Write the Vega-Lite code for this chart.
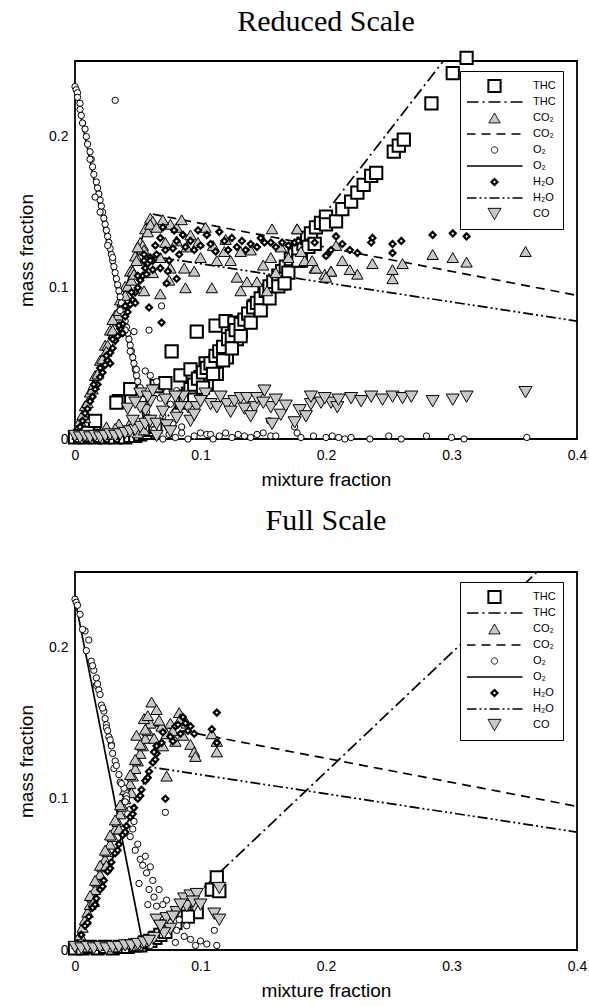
{
"$schema": "https://vega.github.io/schema/vega-lite/v6.json",
"padding": {"left": 16, "top": 5, "right": 10, "bottom": 5},
"config": {
  "view": {"stroke": "black", "strokeWidth": 1.8},
  "axis": {"labelFont": "Liberation Sans", "titleFont": "Liberation Sans", "labelColor": "black", "titleColor": "black", "tickColor": "black", "labelFontSize": 14, "titleFontSize": 19, "titleFontWeight": "normal", "domain": false, "grid": false, "labelFlush": false, "labelOverlap": false, "tickSize": 0},
  "legend": {"strokeColor": "black", "fillColor": "white", "padding": 7, "labelFontSize": 11, "labelFont": "Liberation Sans", "labelColor": "black", "rowPadding": 0, "labelOffset": 31, "symbolOffset": 20, "clipHeight": 16, "gridAlign": "all"},
  "title": {"font": "Liberation Serif", "fontSize": 30, "fontWeight": "normal", "color": "black", "anchor": "middle", "frame": "group"}
},
"datasets": {
"rl": [
{"k":"THC_l","o":0,"x":0,"y":0},{"k":"THC_l","o":1,"x":0.06,"y":0},{"k":"THC_l","o":2,"x":0.4,"y":0.364},
{"k":"CO2_l","o":0,"x":0,"y":0},{"k":"CO2_l","o":1,"x":0.06,"y":0.149},{"k":"CO2_l","o":2,"x":0.4,"y":0.095},
{"k":"O2_l","o":0,"x":0,"y":0.232},{"k":"O2_l","o":1,"x":0.058,"y":0},{"k":"O2_l","o":2,"x":0.4,"y":0},
{"k":"H2O_l","o":0,"x":0,"y":0},{"k":"H2O_l","o":1,"x":0.06,"y":0.121},{"k":"H2O_l","o":2,"x":0.4,"y":0.078}
],
"fl": [
{"k":"THC_l","o":0,"x":0,"y":0},{"k":"THC_l","o":1,"x":0.05,"y":0},{"k":"THC_l","o":2,"x":0.4,"y":0.275},
{"k":"CO2_l","o":0,"x":0,"y":0},{"k":"CO2_l","o":1,"x":0.06,"y":0.149},{"k":"CO2_l","o":2,"x":0.4,"y":0.095},
{"k":"O2_l","o":0,"x":0,"y":0.232},{"k":"O2_l","o":1,"x":0.055,"y":0},{"k":"O2_l","o":2,"x":0.4,"y":0},
{"k":"H2O_l","o":0,"x":0,"y":0},{"k":"H2O_l","o":1,"x":0.06,"y":0.121},{"k":"H2O_l","o":2,"x":0.4,"y":0.078}
],
"rp": [
{"k":"THC_p","x":0.000,"y":0.001},{"k":"THC_p","x":0.004,"y":0.002},{"k":"THC_p","x":0.008,"y":0.001},{"k":"THC_p","x":0.012,"y":0.002},{"k":"THC_p","x":0.016,"y":0.001},{"k":"THC_p","x":0.020,"y":0.002},{"k":"THC_p","x":0.024,"y":0.001},{"k":"THC_p","x":0.028,"y":0.002},{"k":"THC_p","x":0.032,"y":0.001},{"k":"THC_p","x":0.036,"y":0.002},{"k":"THC_p","x":0.040,"y":0.001},{"k":"THC_p","x":0.044,"y":0.002},{"k":"THC_p","x":0.048,"y":0.002},{"k":"THC_p","x":0.052,"y":0.003},{"k":"THC_p","x":0.056,"y":0.004},{"k":"THC_p","x":0.060,"y":0.006},{"k":"THC_p","x":0.064,"y":0.008},
{"k":"THC_p","x":0.010,"y":0.004},{"k":"THC_p","x":0.016,"y":0.012},{"k":"THC_p","x":0.035,"y":0.025},{"k":"THC_p","x":0.044,"y":0.033},{"k":"THC_p","x":0.033,"y":0.024},
{"k":"THC_p","x":0.065,"y":0.035},{"k":"THC_p","x":0.072,"y":0.037},{"k":"THC_p","x":0.077,"y":0.058},{"k":"THC_p","x":0.084,"y":0.042},{"k":"THC_p","x":0.090,"y":0.030},{"k":"THC_p","x":0.092,"y":0.046},{"k":"THC_p","x":0.097,"y":0.032},{"k":"THC_p","x":0.097,"y":0.071},{"k":"THC_p","x":0.100,"y":0.041},{"k":"THC_p","x":0.104,"y":0.050},{"k":"THC_p","x":0.105,"y":0.036},{"k":"THC_p","x":0.112,"y":0.075},{"k":"THC_p","x":0.112,"y":0.052},{"k":"THC_p","x":0.113,"y":0.043},{"k":"THC_p","x":0.120,"y":0.078},{"k":"THC_p","x":0.121,"y":0.060},{"k":"THC_p","x":0.121,"y":0.054},{"k":"THC_p","x":0.127,"y":0.077},{"k":"THC_p","x":0.129,"y":0.066},{"k":"THC_p","x":0.132,"y":0.071},{"k":"THC_p","x":0.137,"y":0.078},{"k":"THC_p","x":0.143,"y":0.088},{"k":"THC_p","x":0.151,"y":0.096},{"k":"THC_p","x":0.164,"y":0.103},{"k":"THC_p","x":0.180,"y":0.118},
{"k":"THC_p","x":0.085,"y":0.024},{"k":"THC_p","x":0.088,"y":0.028},{"k":"THC_p","x":0.092,"y":0.033},{"k":"THC_p","x":0.095,"y":0.036},{"k":"THC_p","x":0.098,"y":0.040},{"k":"THC_p","x":0.102,"y":0.044},{"k":"THC_p","x":0.105,"y":0.047},{"k":"THC_p","x":0.108,"y":0.050},{"k":"THC_p","x":0.112,"y":0.055},{"k":"THC_p","x":0.115,"y":0.058},{"k":"THC_p","x":0.118,"y":0.061},{"k":"THC_p","x":0.122,"y":0.066},{"k":"THC_p","x":0.125,"y":0.068},{"k":"THC_p","x":0.128,"y":0.072},{"k":"THC_p","x":0.132,"y":0.076},{"k":"THC_p","x":0.135,"y":0.079},{"k":"THC_p","x":0.138,"y":0.083},{"k":"THC_p","x":0.142,"y":0.087},{"k":"THC_p","x":0.145,"y":0.090},{"k":"THC_p","x":0.148,"y":0.093},{"k":"THC_p","x":0.152,"y":0.098},{"k":"THC_p","x":0.155,"y":0.101},{"k":"THC_p","x":0.158,"y":0.104},{"k":"THC_p","x":0.162,"y":0.108},{"k":"THC_p","x":0.165,"y":0.111},{"k":"THC_p","x":0.168,"y":0.114},{"k":"THC_p","x":0.172,"y":0.119},{"k":"THC_p","x":0.175,"y":0.122},{"k":"THC_p","x":0.178,"y":0.125},{"k":"THC_p","x":0.182,"y":0.129},{"k":"THC_p","x":0.185,"y":0.133},{"k":"THC_p","x":0.188,"y":0.136},{"k":"THC_p","x":0.192,"y":0.140},{"k":"THC_p","x":0.196,"y":0.143},{"k":"THC_p","x":0.200,"y":0.147},
{"k":"THC_p","x":0.095,"y":0.026},{"k":"THC_p","x":0.102,"y":0.034},{"k":"THC_p","x":0.110,"y":0.043},{"k":"THC_p","x":0.118,"y":0.052},{"k":"THC_p","x":0.125,"y":0.060},{"k":"THC_p","x":0.132,"y":0.068},{"k":"THC_p","x":0.140,"y":0.077},{"k":"THC_p","x":0.148,"y":0.085},{"k":"THC_p","x":0.155,"y":0.093},{"k":"THC_p","x":0.162,"y":0.101},{"k":"THC_p","x":0.170,"y":0.110},{"k":"THC_p","x":0.178,"y":0.118},{"k":"THC_p","x":0.186,"y":0.127},
{"k":"THC_p","x":0.167,"y":0.103},{"k":"THC_p","x":0.191,"y":0.129},{"k":"THC_p","x":0.200,"y":0.142},{"k":"THC_p","x":0.208,"y":0.144},{"k":"THC_p","x":0.213,"y":0.152},{"k":"THC_p","x":0.220,"y":0.157},{"k":"THC_p","x":0.225,"y":0.163},{"k":"THC_p","x":0.230,"y":0.168},{"k":"THC_p","x":0.236,"y":0.174},{"k":"THC_p","x":0.240,"y":0.176},{"k":"THC_p","x":0.254,"y":0.190},{"k":"THC_p","x":0.258,"y":0.194},{"k":"THC_p","x":0.262,"y":0.198},{"k":"THC_p","x":0.284,"y":0.222},{"k":"THC_p","x":0.301,"y":0.242},{"k":"THC_p","x":0.312,"y":0.252},
{"k":"CO2_p","x":0.002,"y":0.003},{"k":"CO2_p","x":0.010,"y":0.002},{"k":"CO2_p","x":0.020,"y":0.004},{"k":"CO2_p","x":0.030,"y":0.003},{"k":"CO2_p","x":0.040,"y":0.005},{"k":"CO2_p","x":0.050,"y":0.004},{"k":"CO2_p","x":0.035,"y":0.010},{"k":"CO2_p","x":0.045,"y":0.012},{"k":"CO2_p","x":0.025,"y":0.008},{"k":"CO2_p","x":0.008,"y":0.014},{"k":"CO2_p","x":0.032,"y":0.007},{"k":"CO2_p","x":0.055,"y":0.006},
{"k":"CO2_p","x":0.004,"y":0.012},{"k":"CO2_p","x":0.006,"y":0.016},{"k":"CO2_p","x":0.008,"y":0.022},{"k":"CO2_p","x":0.010,"y":0.024},{"k":"CO2_p","x":0.012,"y":0.031},{"k":"CO2_p","x":0.014,"y":0.033},{"k":"CO2_p","x":0.016,"y":0.042},{"k":"CO2_p","x":0.018,"y":0.043},{"k":"CO2_p","x":0.020,"y":0.052},{"k":"CO2_p","x":0.022,"y":0.053},{"k":"CO2_p","x":0.024,"y":0.062},{"k":"CO2_p","x":0.026,"y":0.062},{"k":"CO2_p","x":0.028,"y":0.072},{"k":"CO2_p","x":0.030,"y":0.072},{"k":"CO2_p","x":0.032,"y":0.082},{"k":"CO2_p","x":0.034,"y":0.082},{"k":"CO2_p","x":0.036,"y":0.092},{"k":"CO2_p","x":0.038,"y":0.091},{"k":"CO2_p","x":0.040,"y":0.101},{"k":"CO2_p","x":0.042,"y":0.101},{"k":"CO2_p","x":0.044,"y":0.111},{"k":"CO2_p","x":0.046,"y":0.111},{"k":"CO2_p","x":0.048,"y":0.121},{"k":"CO2_p","x":0.050,"y":0.119},{"k":"CO2_p","x":0.052,"y":0.130},{"k":"CO2_p","x":0.054,"y":0.128},{"k":"CO2_p","x":0.056,"y":0.139},{"k":"CO2_p","x":0.058,"y":0.137},{"k":"CO2_p","x":0.060,"y":0.146},{"k":"CO2_p","x":0.062,"y":0.144},
{"k":"CO2_p","x":0.015,"y":0.036},{"k":"CO2_p","x":0.025,"y":0.058},{"k":"CO2_p","x":0.035,"y":0.085},{"k":"CO2_p","x":0.045,"y":0.105},{"k":"CO2_p","x":0.055,"y":0.125},{"k":"CO2_p","x":0.030,"y":0.079},{"k":"CO2_p","x":0.040,"y":0.095},{"k":"CO2_p","x":0.050,"y":0.127},
{"k":"CO2_p","x":0.060,"y":0.142},{"k":"CO2_p","x":0.065,"y":0.140},{"k":"CO2_p","x":0.076,"y":0.142},{"k":"CO2_p","x":0.081,"y":0.140},{"k":"CO2_p","x":0.092,"y":0.135},{"k":"CO2_p","x":0.104,"y":0.140},{"k":"CO2_p","x":0.157,"y":0.139},{"k":"CO2_p","x":0.177,"y":0.139},{"k":"CO2_p","x":0.049,"y":0.118},{"k":"CO2_p","x":0.047,"y":0.109},{"k":"CO2_p","x":0.055,"y":0.098},{"k":"CO2_p","x":0.068,"y":0.096},{"k":"CO2_p","x":0.076,"y":0.113},{"k":"CO2_p","x":0.087,"y":0.113},{"k":"CO2_p","x":0.095,"y":0.111},{"k":"CO2_p","x":0.109,"y":0.100},{"k":"CO2_p","x":0.113,"y":0.118},{"k":"CO2_p","x":0.124,"y":0.118},{"k":"CO2_p","x":0.129,"y":0.107},{"k":"CO2_p","x":0.137,"y":0.104},{"k":"CO2_p","x":0.145,"y":0.104},{"k":"CO2_p","x":0.156,"y":0.120},{"k":"CO2_p","x":0.164,"y":0.127},{"k":"CO2_p","x":0.183,"y":0.118},{"k":"CO2_p","x":0.191,"y":0.113},{"k":"CO2_p","x":0.199,"y":0.109},{"k":"CO2_p","x":0.204,"y":0.111},{"k":"CO2_p","x":0.132,"y":0.124},{"k":"CO2_p","x":0.119,"y":0.124},{"k":"CO2_p","x":0.100,"y":0.120},{"k":"CO2_p","x":0.089,"y":0.127},{"k":"CO2_p","x":0.081,"y":0.131},{"k":"CO2_p","x":0.132,"y":0.098},{"k":"CO2_p","x":0.153,"y":0.098},{"k":"CO2_p","x":0.070,"y":0.145},{"k":"CO2_p","x":0.072,"y":0.130},{"k":"CO2_p","x":0.085,"y":0.145},{"k":"CO2_p","x":0.098,"y":0.130},{"k":"CO2_p","x":0.110,"y":0.128},{"k":"CO2_p","x":0.120,"y":0.132},{"k":"CO2_p","x":0.140,"y":0.125},{"k":"CO2_p","x":0.150,"y":0.115},{"k":"CO2_p","x":0.068,"y":0.120},{"k":"CO2_p","x":0.062,"y":0.110},{"k":"CO2_p","x":0.075,"y":0.105},{"k":"CO2_p","x":0.088,"y":0.100},{"k":"CO2_p","x":0.160,"y":0.110},{"k":"CO2_p","x":0.170,"y":0.120},
{"k":"CO2_p","x":0.285,"y":0.122},{"k":"CO2_p","x":0.301,"y":0.120},{"k":"CO2_p","x":0.312,"y":0.117},{"k":"CO2_p","x":0.359,"y":0.124},{"k":"CO2_p","x":0.261,"y":0.116},{"k":"CO2_p","x":0.253,"y":0.106},{"k":"CO2_p","x":0.253,"y":0.112},{"k":"CO2_p","x":0.237,"y":0.116},{"k":"CO2_p","x":0.225,"y":0.109},{"k":"CO2_p","x":0.219,"y":0.112},{"k":"CO2_p","x":0.213,"y":0.118},{"k":"CO2_p","x":0.204,"y":0.111},{"k":"CO2_p","x":0.200,"y":0.107},{"k":"CO2_p","x":0.192,"y":0.113},{"k":"CO2_p","x":0.189,"y":0.118},{"k":"CO2_p","x":0.177,"y":0.139},{"k":"CO2_p","x":0.208,"y":0.128},{"k":"CO2_p","x":0.180,"y":0.124},
{"k":"O2_p","x":0.000,"y":0.233},{"k":"O2_p","x":0.001,"y":0.231},{"k":"O2_p","x":0.002,"y":0.229},{"k":"O2_p","x":0.002,"y":0.226},{"k":"O2_p","x":0.004,"y":0.222},{"k":"O2_p","x":0.004,"y":0.218},{"k":"O2_p","x":0.005,"y":0.214},{"k":"O2_p","x":0.006,"y":0.209},{"k":"O2_p","x":0.008,"y":0.205},{"k":"O2_p","x":0.009,"y":0.200},{"k":"O2_p","x":0.010,"y":0.195},{"k":"O2_p","x":0.012,"y":0.190},{"k":"O2_p","x":0.013,"y":0.185},{"k":"O2_p","x":0.014,"y":0.180},{"k":"O2_p","x":0.015,"y":0.175},{"k":"O2_p","x":0.017,"y":0.170},{"k":"O2_p","x":0.018,"y":0.166},{"k":"O2_p","x":0.019,"y":0.162},{"k":"O2_p","x":0.020,"y":0.158},{"k":"O2_p","x":0.021,"y":0.154},{"k":"O2_p","x":0.022,"y":0.150},{"k":"O2_p","x":0.023,"y":0.146},{"k":"O2_p","x":0.024,"y":0.142},{"k":"O2_p","x":0.025,"y":0.138},{"k":"O2_p","x":0.026,"y":0.134},{"k":"O2_p","x":0.027,"y":0.130},{"k":"O2_p","x":0.028,"y":0.126},{"k":"O2_p","x":0.029,"y":0.122},{"k":"O2_p","x":0.030,"y":0.118},{"k":"O2_p","x":0.031,"y":0.114},{"k":"O2_p","x":0.032,"y":0.110},{"k":"O2_p","x":0.033,"y":0.106},{"k":"O2_p","x":0.034,"y":0.102},{"k":"O2_p","x":0.035,"y":0.098},{"k":"O2_p","x":0.036,"y":0.094},{"k":"O2_p","x":0.037,"y":0.090},{"k":"O2_p","x":0.038,"y":0.086},{"k":"O2_p","x":0.039,"y":0.082},{"k":"O2_p","x":0.040,"y":0.078},{"k":"O2_p","x":0.041,"y":0.074},{"k":"O2_p","x":0.042,"y":0.070},{"k":"O2_p","x":0.043,"y":0.066},{"k":"O2_p","x":0.044,"y":0.062},{"k":"O2_p","x":0.045,"y":0.058},{"k":"O2_p","x":0.046,"y":0.054},{"k":"O2_p","x":0.047,"y":0.050},{"k":"O2_p","x":0.048,"y":0.046},{"k":"O2_p","x":0.049,"y":0.042},{"k":"O2_p","x":0.050,"y":0.038},{"k":"O2_p","x":0.052,"y":0.034},{"k":"O2_p","x":0.053,"y":0.030},{"k":"O2_p","x":0.054,"y":0.026},{"k":"O2_p","x":0.056,"y":0.022},{"k":"O2_p","x":0.057,"y":0.018},{"k":"O2_p","x":0.059,"y":0.014},{"k":"O2_p","x":0.061,"y":0.010},{"k":"O2_p","x":0.063,"y":0.006},
{"k":"O2_p","x":0.016,"y":0.160},{"k":"O2_p","x":0.020,"y":0.150},{"k":"O2_p","x":0.026,"y":0.128},{"k":"O2_p","x":0.030,"y":0.120},{"k":"O2_p","x":0.012,"y":0.185},{"k":"O2_p","x":0.036,"y":0.085},{"k":"O2_p","x":0.040,"y":0.072},
{"k":"O2_p","x":0.047,"y":0.071},{"k":"O2_p","x":0.059,"y":0.072},{"k":"O2_p","x":0.069,"y":0.088},{"k":"O2_p","x":0.044,"y":0.058},{"k":"O2_p","x":0.049,"y":0.046},{"k":"O2_p","x":0.056,"y":0.045},{"k":"O2_p","x":0.060,"y":0.042},{"k":"O2_p","x":0.065,"y":0.038},{"k":"O2_p","x":0.062,"y":0.034},{"k":"O2_p","x":0.068,"y":0.027},{"k":"O2_p","x":0.076,"y":0.023},{"k":"O2_p","x":0.081,"y":0.032},{"k":"O2_p","x":0.073,"y":0.031},{"k":"O2_p","x":0.055,"y":0.030},{"k":"O2_p","x":0.070,"y":0.015},{"k":"O2_p","x":0.078,"y":0.010},{"k":"O2_p","x":0.085,"y":0.008},{"k":"O2_p","x":0.032,"y":0.224},
{"k":"O2_p","x":0.065,"y":0.002},{"k":"O2_p","x":0.070,"y":0.000},{"k":"O2_p","x":0.075,"y":0.003},{"k":"O2_p","x":0.080,"y":0.001},{"k":"O2_p","x":0.085,"y":0.004},{"k":"O2_p","x":0.090,"y":0.000},{"k":"O2_p","x":0.095,"y":0.002},{"k":"O2_p","x":0.100,"y":0.004},{"k":"O2_p","x":0.105,"y":0.003},{"k":"O2_p","x":0.108,"y":0.003},{"k":"O2_p","x":0.110,"y":0.000},{"k":"O2_p","x":0.115,"y":0.002},{"k":"O2_p","x":0.120,"y":0.004},{"k":"O2_p","x":0.125,"y":0.001},{"k":"O2_p","x":0.130,"y":0.003},{"k":"O2_p","x":0.135,"y":0.002},{"k":"O2_p","x":0.140,"y":0.001},{"k":"O2_p","x":0.145,"y":0.003},{"k":"O2_p","x":0.150,"y":0.004},{"k":"O2_p","x":0.155,"y":0.012},{"k":"O2_p","x":0.156,"y":0.002},{"k":"O2_p","x":0.160,"y":0.002},{"k":"O2_p","x":0.175,"y":0.008},{"k":"O2_p","x":0.177,"y":0.004},{"k":"O2_p","x":0.180,"y":0.001},{"k":"O2_p","x":0.190,"y":0.002},{"k":"O2_p","x":0.200,"y":0.001},{"k":"O2_p","x":0.205,"y":0.002},{"k":"O2_p","x":0.210,"y":0.001},{"k":"O2_p","x":0.215,"y":0.000},{"k":"O2_p","x":0.220,"y":0.001},{"k":"O2_p","x":0.235,"y":0.000},{"k":"O2_p","x":0.250,"y":0.002},{"k":"O2_p","x":0.260,"y":0.000},{"k":"O2_p","x":0.280,"y":0.002},{"k":"O2_p","x":0.300,"y":0.001},{"k":"O2_p","x":0.310,"y":0.000},{"k":"O2_p","x":0.360,"y":0.001},
{"k":"H2O_p","x":0.004,"y":0.008},{"k":"H2O_p","x":0.006,"y":0.012},{"k":"H2O_p","x":0.008,"y":0.017},{"k":"H2O_p","x":0.010,"y":0.020},{"k":"H2O_p","x":0.012,"y":0.025},{"k":"H2O_p","x":0.014,"y":0.028},{"k":"H2O_p","x":0.016,"y":0.033},{"k":"H2O_p","x":0.018,"y":0.036},{"k":"H2O_p","x":0.020,"y":0.041},{"k":"H2O_p","x":0.022,"y":0.044},{"k":"H2O_p","x":0.024,"y":0.049},{"k":"H2O_p","x":0.026,"y":0.052},{"k":"H2O_p","x":0.028,"y":0.057},{"k":"H2O_p","x":0.030,"y":0.060},{"k":"H2O_p","x":0.032,"y":0.065},{"k":"H2O_p","x":0.034,"y":0.068},{"k":"H2O_p","x":0.036,"y":0.073},{"k":"H2O_p","x":0.038,"y":0.076},{"k":"H2O_p","x":0.040,"y":0.081},{"k":"H2O_p","x":0.042,"y":0.084},{"k":"H2O_p","x":0.044,"y":0.089},{"k":"H2O_p","x":0.046,"y":0.092},{"k":"H2O_p","x":0.048,"y":0.097},{"k":"H2O_p","x":0.050,"y":0.100},{"k":"H2O_p","x":0.052,"y":0.105},{"k":"H2O_p","x":0.054,"y":0.108},{"k":"H2O_p","x":0.056,"y":0.113},{"k":"H2O_p","x":0.058,"y":0.116},{"k":"H2O_p","x":0.060,"y":0.120},{"k":"H2O_p","x":0.062,"y":0.118},
{"k":"H2O_p","x":0.020,"y":0.047},{"k":"H2O_p","x":0.025,"y":0.055},{"k":"H2O_p","x":0.030,"y":0.066},{"k":"H2O_p","x":0.035,"y":0.075},{"k":"H2O_p","x":0.040,"y":0.088},{"k":"H2O_p","x":0.045,"y":0.097},{"k":"H2O_p","x":0.050,"y":0.108},{"k":"H2O_p","x":0.055,"y":0.118},{"k":"H2O_p","x":0.015,"y":0.036},{"k":"H2O_p","x":0.028,"y":0.050},{"k":"H2O_p","x":0.038,"y":0.070},{"k":"H2O_p","x":0.048,"y":0.090},
{"k":"H2O_p","x":0.079,"y":0.138},{"k":"H2O_p","x":0.081,"y":0.131},{"k":"H2O_p","x":0.092,"y":0.131},{"k":"H2O_p","x":0.105,"y":0.135},{"k":"H2O_p","x":0.119,"y":0.131},{"k":"H2O_p","x":0.129,"y":0.127},{"k":"H2O_p","x":0.140,"y":0.129},{"k":"H2O_p","x":0.151,"y":0.130},{"k":"H2O_p","x":0.156,"y":0.130},{"k":"H2O_p","x":0.165,"y":0.130},{"k":"H2O_p","x":0.175,"y":0.130},{"k":"H2O_p","x":0.191,"y":0.130},{"k":"H2O_p","x":0.208,"y":0.134},{"k":"H2O_p","x":0.201,"y":0.122},{"k":"H2O_p","x":0.073,"y":0.103},{"k":"H2O_p","x":0.081,"y":0.106},{"k":"H2O_p","x":0.060,"y":0.118},{"k":"H2O_p","x":0.057,"y":0.109},{"k":"H2O_p","x":0.055,"y":0.122},{"k":"H2O_p","x":0.065,"y":0.122},{"k":"H2O_p","x":0.068,"y":0.113},{"k":"H2O_p","x":0.064,"y":0.128},{"k":"H2O_p","x":0.068,"y":0.133},{"k":"H2O_p","x":0.072,"y":0.125},{"k":"H2O_p","x":0.075,"y":0.118},{"k":"H2O_p","x":0.078,"y":0.126},{"k":"H2O_p","x":0.083,"y":0.122},{"k":"H2O_p","x":0.086,"y":0.135},{"k":"H2O_p","x":0.088,"y":0.127},{"k":"H2O_p","x":0.095,"y":0.125},{"k":"H2O_p","x":0.098,"y":0.138},{"k":"H2O_p","x":0.100,"y":0.128},{"k":"H2O_p","x":0.108,"y":0.129},{"k":"H2O_p","x":0.112,"y":0.124},{"k":"H2O_p","x":0.115,"y":0.137},{"k":"H2O_p","x":0.122,"y":0.125},{"k":"H2O_p","x":0.125,"y":0.133},{"k":"H2O_p","x":0.133,"y":0.131},{"k":"H2O_p","x":0.136,"y":0.125},{"k":"H2O_p","x":0.145,"y":0.127},{"k":"H2O_p","x":0.148,"y":0.133},{"k":"H2O_p","x":0.160,"y":0.127},{"k":"H2O_p","x":0.170,"y":0.128},{"k":"H2O_p","x":0.070,"y":0.140},{"k":"H2O_p","x":0.074,"y":0.111},{"k":"H2O_p","x":0.062,"y":0.112},
{"k":"H2O_p","x":0.069,"y":0.077},{"k":"H2O_p","x":0.059,"y":0.087},
{"k":"H2O_p","x":0.285,"y":0.135},{"k":"H2O_p","x":0.301,"y":0.136},{"k":"H2O_p","x":0.312,"y":0.134},{"k":"H2O_p","x":0.359,"y":0.141},{"k":"H2O_p","x":0.237,"y":0.133},{"k":"H2O_p","x":0.236,"y":0.130},{"k":"H2O_p","x":0.253,"y":0.129},{"k":"H2O_p","x":0.260,"y":0.131},{"k":"H2O_p","x":0.253,"y":0.123},{"k":"H2O_p","x":0.219,"y":0.125},{"k":"H2O_p","x":0.225,"y":0.123},{"k":"H2O_p","x":0.213,"y":0.129},{"k":"H2O_p","x":0.204,"y":0.125},{"k":"H2O_p","x":0.200,"y":0.121},{"k":"H2O_p","x":0.178,"y":0.131},
{"k":"CO_p","x":0.000,"y":0.002},{"k":"CO_p","x":0.004,"y":0.001},{"k":"CO_p","x":0.008,"y":0.002},{"k":"CO_p","x":0.012,"y":0.001},{"k":"CO_p","x":0.016,"y":0.002},{"k":"CO_p","x":0.020,"y":0.001},{"k":"CO_p","x":0.024,"y":0.002},{"k":"CO_p","x":0.028,"y":0.003},{"k":"CO_p","x":0.032,"y":0.002},{"k":"CO_p","x":0.036,"y":0.003},{"k":"CO_p","x":0.040,"y":0.004},{"k":"CO_p","x":0.044,"y":0.005},{"k":"CO_p","x":0.048,"y":0.006},{"k":"CO_p","x":0.052,"y":0.008},{"k":"CO_p","x":0.056,"y":0.010},{"k":"CO_p","x":0.060,"y":0.012},
{"k":"CO_p","x":0.052,"y":0.030},{"k":"CO_p","x":0.056,"y":0.019},{"k":"CO_p","x":0.065,"y":0.010},{"k":"CO_p","x":0.073,"y":0.009},{"k":"CO_p","x":0.081,"y":0.014},{"k":"CO_p","x":0.090,"y":0.021},{"k":"CO_p","x":0.097,"y":0.021},{"k":"CO_p","x":0.104,"y":0.030},{"k":"CO_p","x":0.108,"y":0.023},{"k":"CO_p","x":0.113,"y":0.021},{"k":"CO_p","x":0.121,"y":0.023},{"k":"CO_p","x":0.127,"y":0.025},{"k":"CO_p","x":0.132,"y":0.027},{"k":"CO_p","x":0.137,"y":0.027},{"k":"CO_p","x":0.143,"y":0.021},{"k":"CO_p","x":0.145,"y":0.027},{"k":"CO_p","x":0.151,"y":0.032},{"k":"CO_p","x":0.156,"y":0.021},{"k":"CO_p","x":0.157,"y":0.010},{"k":"CO_p","x":0.164,"y":0.016},{"k":"CO_p","x":0.175,"y":0.011},{"k":"CO_p","x":0.179,"y":0.019},{"k":"CO_p","x":0.188,"y":0.023},{"k":"CO_p","x":0.196,"y":0.024},{"k":"CO_p","x":0.204,"y":0.024},{"k":"CO_p","x":0.209,"y":0.021},{"k":"CO_p","x":0.084,"y":0.021},{"k":"CO_p","x":0.092,"y":0.012},{"k":"CO_p","x":0.052,"y":0.021},{"k":"CO_p","x":0.076,"y":0.005},{"k":"CO_p","x":0.065,"y":0.002},{"k":"CO_p","x":0.060,"y":0.025},{"k":"CO_p","x":0.070,"y":0.018},{"k":"CO_p","x":0.086,"y":0.028},{"k":"CO_p","x":0.095,"y":0.016},{"k":"CO_p","x":0.100,"y":0.025},{"k":"CO_p","x":0.116,"y":0.028},{"k":"CO_p","x":0.124,"y":0.018},{"k":"CO_p","x":0.135,"y":0.020},{"k":"CO_p","x":0.140,"y":0.015},{"k":"CO_p","x":0.150,"y":0.024},{"k":"CO_p","x":0.160,"y":0.026},{"k":"CO_p","x":0.168,"y":0.022},{"k":"CO_p","x":0.184,"y":0.015},{"k":"CO_p","x":0.046,"y":0.012},{"k":"CO_p","x":0.042,"y":0.020},{"k":"CO_p","x":0.048,"y":0.024},{"k":"CO_p","x":0.058,"y":0.028},{"k":"CO_p","x":0.062,"y":0.032},{"k":"CO_p","x":0.072,"y":0.026},{"k":"CO_p","x":0.080,"y":0.028},
{"k":"CO_p","x":0.188,"y":0.028},{"k":"CO_p","x":0.199,"y":0.027},{"k":"CO_p","x":0.210,"y":0.026},{"k":"CO_p","x":0.220,"y":0.027},{"k":"CO_p","x":0.228,"y":0.025},{"k":"CO_p","x":0.236,"y":0.028},{"k":"CO_p","x":0.245,"y":0.026},{"k":"CO_p","x":0.253,"y":0.028},{"k":"CO_p","x":0.261,"y":0.027},{"k":"CO_p","x":0.268,"y":0.028},{"k":"CO_p","x":0.285,"y":0.025},{"k":"CO_p","x":0.301,"y":0.026},{"k":"CO_p","x":0.312,"y":0.028},{"k":"CO_p","x":0.359,"y":0.031}
],
"fp": [
{"k":"THC_p","x":0.000,"y":0.001},{"k":"THC_p","x":0.006,"y":0.001},{"k":"THC_p","x":0.012,"y":0.002},{"k":"THC_p","x":0.018,"y":0.001},{"k":"THC_p","x":0.024,"y":0.002},{"k":"THC_p","x":0.030,"y":0.001},{"k":"THC_p","x":0.036,"y":0.002},{"k":"THC_p","x":0.042,"y":0.002},{"k":"THC_p","x":0.048,"y":0.003},{"k":"THC_p","x":0.052,"y":0.003},{"k":"THC_p","x":0.056,"y":0.005},{"k":"THC_p","x":0.060,"y":0.006},{"k":"THC_p","x":0.064,"y":0.008},{"k":"THC_p","x":0.068,"y":0.010},{"k":"THC_p","x":0.072,"y":0.012},
{"k":"THC_p","x":0.113,"y":0.048},{"k":"THC_p","x":0.109,"y":0.040},{"k":"THC_p","x":0.115,"y":0.039},{"k":"THC_p","x":0.097,"y":0.025},{"k":"THC_p","x":0.080,"y":0.018},{"k":"THC_p","x":0.090,"y":0.022},
{"k":"CO2_p","x":0.002,"y":0.004},{"k":"CO2_p","x":0.004,"y":0.010},{"k":"CO2_p","x":0.006,"y":0.015},{"k":"CO2_p","x":0.008,"y":0.020},{"k":"CO2_p","x":0.010,"y":0.025},{"k":"CO2_p","x":0.012,"y":0.030},{"k":"CO2_p","x":0.014,"y":0.035},{"k":"CO2_p","x":0.016,"y":0.040},{"k":"CO2_p","x":0.018,"y":0.045},{"k":"CO2_p","x":0.020,"y":0.050},{"k":"CO2_p","x":0.022,"y":0.055},{"k":"CO2_p","x":0.024,"y":0.060},{"k":"CO2_p","x":0.026,"y":0.065},{"k":"CO2_p","x":0.028,"y":0.070},{"k":"CO2_p","x":0.030,"y":0.075},{"k":"CO2_p","x":0.032,"y":0.080},{"k":"CO2_p","x":0.034,"y":0.085},{"k":"CO2_p","x":0.036,"y":0.090},{"k":"CO2_p","x":0.038,"y":0.095},{"k":"CO2_p","x":0.040,"y":0.100},{"k":"CO2_p","x":0.042,"y":0.105},{"k":"CO2_p","x":0.044,"y":0.110},{"k":"CO2_p","x":0.046,"y":0.115},{"k":"CO2_p","x":0.048,"y":0.120},{"k":"CO2_p","x":0.050,"y":0.125},{"k":"CO2_p","x":0.052,"y":0.130},{"k":"CO2_p","x":0.054,"y":0.135},{"k":"CO2_p","x":0.056,"y":0.140},{"k":"CO2_p","x":0.058,"y":0.145},{"k":"CO2_p","x":0.060,"y":0.150},
{"k":"CO2_p","x":0.012,"y":0.036},{"k":"CO2_p","x":0.016,"y":0.046},{"k":"CO2_p","x":0.020,"y":0.056},{"k":"CO2_p","x":0.024,"y":0.066},{"k":"CO2_p","x":0.028,"y":0.076},{"k":"CO2_p","x":0.032,"y":0.086},{"k":"CO2_p","x":0.036,"y":0.096},{"k":"CO2_p","x":0.040,"y":0.106},{"k":"CO2_p","x":0.044,"y":0.116},{"k":"CO2_p","x":0.048,"y":0.126},{"k":"CO2_p","x":0.052,"y":0.136},{"k":"CO2_p","x":0.056,"y":0.146},{"k":"CO2_p","x":0.015,"y":0.032},{"k":"CO2_p","x":0.025,"y":0.056},{"k":"CO2_p","x":0.035,"y":0.080},{"k":"CO2_p","x":0.045,"y":0.104},
{"k":"CO2_p","x":0.061,"y":0.164},{"k":"CO2_p","x":0.055,"y":0.153},{"k":"CO2_p","x":0.049,"y":0.142},{"k":"CO2_p","x":0.083,"y":0.157},{"k":"CO2_p","x":0.076,"y":0.150},{"k":"CO2_p","x":0.069,"y":0.148},{"k":"CO2_p","x":0.073,"y":0.143},{"k":"CO2_p","x":0.092,"y":0.136},{"k":"CO2_p","x":0.095,"y":0.131},{"k":"CO2_p","x":0.109,"y":0.143},{"k":"CO2_p","x":0.113,"y":0.138},{"k":"CO2_p","x":0.113,"y":0.131},{"k":"CO2_p","x":0.089,"y":0.150},{"k":"CO2_p","x":0.084,"y":0.153},{"k":"CO2_p","x":0.065,"y":0.159},{"k":"CO2_p","x":0.073,"y":0.115},{"k":"CO2_p","x":0.096,"y":0.128},{"k":"CO2_p","x":0.063,"y":0.140},{"k":"CO2_p","x":0.067,"y":0.152},{"k":"CO2_p","x":0.070,"y":0.135},{"k":"CO2_p","x":0.078,"y":0.145},{"k":"CO2_p","x":0.080,"y":0.138},{"k":"CO2_p","x":0.086,"y":0.142},{"k":"CO2_p","x":0.058,"y":0.155},
{"k":"CO2_p","x":0.010,"y":0.002},{"k":"CO2_p","x":0.020,"y":0.003},{"k":"CO2_p","x":0.030,"y":0.002},{"k":"CO2_p","x":0.040,"y":0.004},{"k":"CO2_p","x":0.050,"y":0.003},
{"k":"O2_p","x":0.000,"y":0.232},{"k":"O2_p","x":0.001,"y":0.230},{"k":"O2_p","x":0.002,"y":0.228},{"k":"O2_p","x":0.004,"y":0.222},{"k":"O2_p","x":0.008,"y":0.211},{"k":"O2_p","x":0.011,"y":0.205},{"k":"O2_p","x":0.006,"y":0.212},{"k":"O2_p","x":0.013,"y":0.191},{"k":"O2_p","x":0.015,"y":0.185},{"k":"O2_p","x":0.017,"y":0.180},{"k":"O2_p","x":0.017,"y":0.175},{"k":"O2_p","x":0.019,"y":0.172},{"k":"O2_p","x":0.020,"y":0.169},{"k":"O2_p","x":0.021,"y":0.162},{"k":"O2_p","x":0.023,"y":0.158},{"k":"O2_p","x":0.024,"y":0.153},{"k":"O2_p","x":0.025,"y":0.149},{"k":"O2_p","x":0.025,"y":0.147},{"k":"O2_p","x":0.027,"y":0.141},{"k":"O2_p","x":0.029,"y":0.136},{"k":"O2_p","x":0.029,"y":0.135},{"k":"O2_p","x":0.030,"y":0.130},{"k":"O2_p","x":0.032,"y":0.125},{"k":"O2_p","x":0.031,"y":0.120},{"k":"O2_p","x":0.035,"y":0.116},{"k":"O2_p","x":0.036,"y":0.111},{"k":"O2_p","x":0.039,"y":0.107},{"k":"O2_p","x":0.041,"y":0.102},{"k":"O2_p","x":0.041,"y":0.100},{"k":"O2_p","x":0.044,"y":0.093},{"k":"O2_p","x":0.047,"y":0.085},{"k":"O2_p","x":0.044,"y":0.075},{"k":"O2_p","x":0.048,"y":0.066},{"k":"O2_p","x":0.052,"y":0.060},{"k":"O2_p","x":0.057,"y":0.051},{"k":"O2_p","x":0.051,"y":0.044},{"k":"O2_p","x":0.059,"y":0.040},{"k":"O2_p","x":0.063,"y":0.035},{"k":"O2_p","x":0.065,"y":0.029},{"k":"O2_p","x":0.069,"y":0.022},{"k":"O2_p","x":0.075,"y":0.018},{"k":"O2_p","x":0.081,"y":0.013},{"k":"O2_p","x":0.087,"y":0.009},{"k":"O2_p","x":0.092,"y":0.007},{"k":"O2_p","x":0.096,"y":0.003},{"k":"O2_p","x":0.113,"y":0.003},{"k":"O2_p","x":0.111,"y":0.013},{"k":"O2_p","x":0.072,"y":0.091},{"k":"O2_p","x":0.060,"y":0.055},{"k":"O2_p","x":0.056,"y":0.062},{"k":"O2_p","x":0.067,"y":0.040},{"k":"O2_p","x":0.073,"y":0.033},{"k":"O2_p","x":0.079,"y":0.026},{"k":"O2_p","x":0.083,"y":0.020},{"k":"O2_p","x":0.089,"y":0.016},{"k":"O2_p","x":0.068,"y":0.016},{"k":"O2_p","x":0.076,"y":0.018},{"k":"O2_p","x":0.046,"y":0.080},{"k":"O2_p","x":0.050,"y":0.070},{"k":"O2_p","x":0.054,"y":0.056},{"k":"O2_p","x":0.062,"y":0.046},{"k":"O2_p","x":0.070,"y":0.030},{"k":"O2_p","x":0.058,"y":0.030},
{"k":"O2_p","x":0.009,"y":0.198},{"k":"O2_p","x":0.014,"y":0.188},{"k":"O2_p","x":0.018,"y":0.176},{"k":"O2_p","x":0.022,"y":0.160},{"k":"O2_p","x":0.026,"y":0.145},{"k":"O2_p","x":0.028,"y":0.139},{"k":"O2_p","x":0.033,"y":0.122},{"k":"O2_p","x":0.037,"y":0.110},{"k":"O2_p","x":0.040,"y":0.098},{"k":"O2_p","x":0.042,"y":0.090},
{"k":"O2_p","x":0.050,"y":0.002},{"k":"O2_p","x":0.060,"y":0.003},{"k":"O2_p","x":0.080,"y":0.005},{"k":"O2_p","x":0.100,"y":0.006},{"k":"O2_p","x":0.105,"y":0.004},
{"k":"H2O_p","x":0.002,"y":0.004},{"k":"H2O_p","x":0.005,"y":0.010},{"k":"H2O_p","x":0.008,"y":0.016},{"k":"H2O_p","x":0.011,"y":0.022},{"k":"H2O_p","x":0.014,"y":0.028},{"k":"H2O_p","x":0.017,"y":0.034},{"k":"H2O_p","x":0.020,"y":0.040},{"k":"H2O_p","x":0.023,"y":0.046},{"k":"H2O_p","x":0.026,"y":0.052},{"k":"H2O_p","x":0.029,"y":0.058},{"k":"H2O_p","x":0.032,"y":0.064},{"k":"H2O_p","x":0.035,"y":0.070},{"k":"H2O_p","x":0.038,"y":0.076},{"k":"H2O_p","x":0.041,"y":0.082},{"k":"H2O_p","x":0.044,"y":0.088},{"k":"H2O_p","x":0.047,"y":0.094},{"k":"H2O_p","x":0.050,"y":0.100},{"k":"H2O_p","x":0.053,"y":0.106},{"k":"H2O_p","x":0.056,"y":0.112},{"k":"H2O_p","x":0.059,"y":0.118},{"k":"H2O_p","x":0.062,"y":0.124},{"k":"H2O_p","x":0.065,"y":0.130},
{"k":"H2O_p","x":0.010,"y":0.018},{"k":"H2O_p","x":0.016,"y":0.030},{"k":"H2O_p","x":0.022,"y":0.042},{"k":"H2O_p","x":0.028,"y":0.054},{"k":"H2O_p","x":0.034,"y":0.066},{"k":"H2O_p","x":0.040,"y":0.078},{"k":"H2O_p","x":0.046,"y":0.090},{"k":"H2O_p","x":0.052,"y":0.102},{"k":"H2O_p","x":0.058,"y":0.114},{"k":"H2O_p","x":0.064,"y":0.126},
{"k":"H2O_p","x":0.088,"y":0.150},{"k":"H2O_p","x":0.092,"y":0.148},{"k":"H2O_p","x":0.095,"y":0.143},{"k":"H2O_p","x":0.084,"y":0.143},{"k":"H2O_p","x":0.076,"y":0.141},{"k":"H2O_p","x":0.069,"y":0.137},{"k":"H2O_p","x":0.065,"y":0.135},{"k":"H2O_p","x":0.063,"y":0.131},{"k":"H2O_p","x":0.113,"y":0.157},{"k":"H2O_p","x":0.109,"y":0.146},{"k":"H2O_p","x":0.113,"y":0.137},{"k":"H2O_p","x":0.072,"y":0.100},{"k":"H2O_p","x":0.080,"y":0.148},{"k":"H2O_p","x":0.086,"y":0.154},{"k":"H2O_p","x":0.078,"y":0.138},{"k":"H2O_p","x":0.070,"y":0.144},{"k":"H2O_p","x":0.090,"y":0.145},{"k":"H2O_p","x":0.082,"y":0.149},
{"k":"CO_p","x":0.000,"y":0.002},{"k":"CO_p","x":0.005,"y":0.001},{"k":"CO_p","x":0.010,"y":0.002},{"k":"CO_p","x":0.015,"y":0.001},{"k":"CO_p","x":0.020,"y":0.002},{"k":"CO_p","x":0.025,"y":0.001},{"k":"CO_p","x":0.030,"y":0.002},{"k":"CO_p","x":0.035,"y":0.002},{"k":"CO_p","x":0.040,"y":0.003},{"k":"CO_p","x":0.045,"y":0.003},{"k":"CO_p","x":0.050,"y":0.004},{"k":"CO_p","x":0.055,"y":0.005},
{"k":"CO_p","x":0.065,"y":0.020},{"k":"CO_p","x":0.073,"y":0.021},{"k":"CO_p","x":0.087,"y":0.034},{"k":"CO_p","x":0.092,"y":0.036},{"k":"CO_p","x":0.097,"y":0.037},{"k":"CO_p","x":0.095,"y":0.029},{"k":"CO_p","x":0.089,"y":0.029},{"k":"CO_p","x":0.111,"y":0.024},{"k":"CO_p","x":0.115,"y":0.020},{"k":"CO_p","x":0.115,"y":0.041},{"k":"CO_p","x":0.081,"y":0.025},{"k":"CO_p","x":0.076,"y":0.014},{"k":"CO_p","x":0.071,"y":0.011},{"k":"CO_p","x":0.063,"y":0.008},{"k":"CO_p","x":0.059,"y":0.006},{"k":"CO_p","x":0.068,"y":0.016},{"k":"CO_p","x":0.078,"y":0.022},{"k":"CO_p","x":0.084,"y":0.030},{"k":"CO_p","x":0.094,"y":0.032},{"k":"CO_p","x":0.100,"y":0.030}
]
},
"spacing": 15,
"resolve": {
  "scale": {"x": "independent", "y": "independent", "shape": "independent", "fill": "independent", "size": "independent", "strokeWidth": "independent", "strokeDash": "independent"},
  "legend": {"shape": "independent", "fill": "independent", "size": "independent", "strokeWidth": "independent", "strokeDash": "independent"}
},
"vconcat": [
{
  "title": {"text": "Reduced Scale", "offset": 11},
  "width": 502, "height": 378,
  "layer": [
    {
      "data": {"name": "rl"},
      "mark": {"type": "line", "clip": true, "stroke": "black"},
      "encoding": {
        "x": {"field": "x", "type": "quantitative", "scale": {"domain": [0, 0.4]}, "axis": {"title": "mixture fraction", "values": [0,0.02,0.04,0.06,0.08,0.1,0.12,0.14,0.16,0.18,0.2,0.22,0.24,0.26,0.28,0.3,0.32,0.34,0.36,0.38,0.4], "labelExpr": "abs(datum.value*10-round(datum.value*10))<0.0001 ? toString(round(datum.value*10)/10) : ''", "labelPadding": 9, "titlePadding": 8, "encode": {"ticks": {"update": {"y2": {"signal": "abs(datum.value*10-round(datum.value*10))<0.0001 ? -8 : -4"}}}}}},
        "y": {"field": "y", "type": "quantitative", "scale": {"domain": [0, 0.25]}, "axis": {"title": "mass fraction", "values": [0,0.02,0.04,0.06,0.08,0.1,0.12,0.14,0.16,0.18,0.2,0.22,0.24], "labelExpr": "abs(datum.value*10-round(datum.value*10))<0.0001 ? toString(round(datum.value*10)/10) : ''", "labelPadding": 7, "titlePadding": 12, "encode": {"ticks": {"update": {"x2": {"signal": "abs(datum.value*10-round(datum.value*10))<0.0001 ? 8 : 4"}}}}}},
        "strokeDash": {"field": "k", "type": "nominal", "scale": {"domain": ["THC_p","THC_l","CO2_p","CO2_l","O2_p","O2_l","H2O_p","H2O_l","CO_p"], "range": [[1,0],[12,4,2,4],[1,0],[9,6],[1,0],[1,0],[1,0],[10,3,2,3,2,3],[1,0]]}, "legend": {"orient": "none", "legendX": 385, "legendY": 10, "title": null, "labelExpr": "replace(slice(datum.value,0,-2),'2','₂')"}},
        "strokeWidth": {"field": "k", "type": "nominal", "scale": {"type": "ordinal", "domain": ["THC_p","THC_l","CO2_p","CO2_l","O2_p","O2_l","H2O_p","H2O_l","CO_p"], "range": [2,1.7,1,1.7,1,1.7,2.2,1.7,1]}, "legend": {"orient": "none", "legendX": 385, "legendY": 10, "title": null, "labelExpr": "replace(slice(datum.value,0,-2),'2','₂')"}},
        "order": {"field": "o", "type": "quantitative"}
      }
    },
    {
      "data": {"name": "rp"},
      "mark": {"type": "point", "filled": true, "stroke": "black", "opacity": 1},
      "encoding": {
        "x": {"field": "x", "type": "quantitative", "scale": {"domain": [0, 0.4]}, "axis": {"title": "mixture fraction", "values": [0,0.02,0.04,0.06,0.08,0.1,0.12,0.14,0.16,0.18,0.2,0.22,0.24,0.26,0.28,0.3,0.32,0.34,0.36,0.38,0.4], "labelExpr": "abs(datum.value*10-round(datum.value*10))<0.0001 ? toString(round(datum.value*10)/10) : ''", "labelPadding": 9, "titlePadding": 8, "encode": {"ticks": {"update": {"y2": {"signal": "abs(datum.value*10-round(datum.value*10))<0.0001 ? -8 : -4"}}}}}},
        "y": {"field": "y", "type": "quantitative", "scale": {"domain": [0, 0.25]}, "axis": {"title": "mass fraction", "values": [0,0.02,0.04,0.06,0.08,0.1,0.12,0.14,0.16,0.18,0.2,0.22,0.24], "labelExpr": "abs(datum.value*10-round(datum.value*10))<0.0001 ? toString(round(datum.value*10)/10) : ''", "labelPadding": 7, "titlePadding": 12, "encode": {"ticks": {"update": {"x2": {"signal": "abs(datum.value*10-round(datum.value*10))<0.0001 ? 8 : 4"}}}}}},
        "shape": {"field": "k", "type": "nominal", "scale": {"domain": ["THC_p","THC_l","CO2_p","CO2_l","O2_p","O2_l","H2O_p","H2O_l","CO_p"], "range": ["square","M-7,0H7","triangle-up","M-7,0H7","circle","M-7,0H7","diamond","M-7,0H7","triangle-down"]}, "legend": {"orient": "none", "legendX": 385, "legendY": 10, "title": null, "labelExpr": "replace(slice(datum.value,0,-2),'2','₂')"}},
        "fill": {"field": "k", "type": "nominal", "scale": {"domain": ["THC_p","THC_l","CO2_p","CO2_l","O2_p","O2_l","H2O_p","H2O_l","CO_p"], "range": ["white","transparent","#c8c8c8","transparent","white","transparent","white","transparent","#c8c8c8"]}, "legend": {"orient": "none", "legendX": 385, "legendY": 10, "title": null, "labelExpr": "replace(slice(datum.value,0,-2),'2','₂')"}},
        "size": {"field": "k", "type": "nominal", "scale": {"type": "ordinal", "domain": ["THC_p","THC_l","CO2_p","CO2_l","O2_p","O2_l","H2O_p","H2O_l","CO_p"], "range": [150,64,130,64,40,64,36,64,170]}, "legend": {"orient": "none", "legendX": 385, "legendY": 10, "title": null, "labelExpr": "replace(slice(datum.value,0,-2),'2','₂')"}},
        "strokeWidth": {"field": "k", "type": "nominal", "scale": {"type": "ordinal", "domain": ["THC_p","THC_l","CO2_p","CO2_l","O2_p","O2_l","H2O_p","H2O_l","CO_p"], "range": [2,1.7,1,1.7,1,1.7,2.2,1.7,1]}, "legend": {"orient": "none", "legendX": 385, "legendY": 10, "title": null, "labelExpr": "replace(slice(datum.value,0,-2),'2','₂')"}}
      }
    }
  ]
},
{
  "title": {"text": "Full Scale", "offset": 36},
  "width": 502, "height": 378,
  "layer": [
    {
      "data": {"name": "fl"},
      "mark": {"type": "line", "clip": true, "stroke": "black"},
      "encoding": {
        "x": {"field": "x", "type": "quantitative", "scale": {"domain": [0, 0.4]}, "axis": {"title": "mixture fraction", "values": [0,0.02,0.04,0.06,0.08,0.1,0.12,0.14,0.16,0.18,0.2,0.22,0.24,0.26,0.28,0.3,0.32,0.34,0.36,0.38,0.4], "labelExpr": "abs(datum.value*10-round(datum.value*10))<0.0001 ? toString(round(datum.value*10)/10) : ''", "labelPadding": 9, "titlePadding": 8, "encode": {"ticks": {"update": {"y2": {"signal": "abs(datum.value*10-round(datum.value*10))<0.0001 ? -8 : -4"}}}}}},
        "y": {"field": "y", "type": "quantitative", "scale": {"domain": [0, 0.25]}, "axis": {"title": "mass fraction", "values": [0,0.02,0.04,0.06,0.08,0.1,0.12,0.14,0.16,0.18,0.2,0.22,0.24], "labelExpr": "abs(datum.value*10-round(datum.value*10))<0.0001 ? toString(round(datum.value*10)/10) : ''", "labelPadding": 7, "titlePadding": 12, "encode": {"ticks": {"update": {"x2": {"signal": "abs(datum.value*10-round(datum.value*10))<0.0001 ? 8 : 4"}}}}}},
        "strokeDash": {"field": "k", "type": "nominal", "scale": {"domain": ["THC_p","THC_l","CO2_p","CO2_l","O2_p","O2_l","H2O_p","H2O_l","CO_p"], "range": [[1,0],[12,4,2,4],[1,0],[9,6],[1,0],[1,0],[1,0],[10,3,2,3,2,3],[1,0]]}, "legend": {"orient": "none", "legendX": 385, "legendY": 10, "title": null, "labelExpr": "replace(slice(datum.value,0,-2),'2','₂')"}},
        "strokeWidth": {"field": "k", "type": "nominal", "scale": {"type": "ordinal", "domain": ["THC_p","THC_l","CO2_p","CO2_l","O2_p","O2_l","H2O_p","H2O_l","CO_p"], "range": [2,1.7,1,1.7,1,1.7,2.2,1.7,1]}, "legend": {"orient": "none", "legendX": 385, "legendY": 10, "title": null, "labelExpr": "replace(slice(datum.value,0,-2),'2','₂')"}},
        "order": {"field": "o", "type": "quantitative"}
      }
    },
    {
      "data": {"name": "fp"},
      "mark": {"type": "point", "filled": true, "stroke": "black", "opacity": 1},
      "encoding": {
        "x": {"field": "x", "type": "quantitative", "scale": {"domain": [0, 0.4]}, "axis": {"title": "mixture fraction", "values": [0,0.02,0.04,0.06,0.08,0.1,0.12,0.14,0.16,0.18,0.2,0.22,0.24,0.26,0.28,0.3,0.32,0.34,0.36,0.38,0.4], "labelExpr": "abs(datum.value*10-round(datum.value*10))<0.0001 ? toString(round(datum.value*10)/10) : ''", "labelPadding": 9, "titlePadding": 8, "encode": {"ticks": {"update": {"y2": {"signal": "abs(datum.value*10-round(datum.value*10))<0.0001 ? -8 : -4"}}}}}},
        "y": {"field": "y", "type": "quantitative", "scale": {"domain": [0, 0.25]}, "axis": {"title": "mass fraction", "values": [0,0.02,0.04,0.06,0.08,0.1,0.12,0.14,0.16,0.18,0.2,0.22,0.24], "labelExpr": "abs(datum.value*10-round(datum.value*10))<0.0001 ? toString(round(datum.value*10)/10) : ''", "labelPadding": 7, "titlePadding": 12, "encode": {"ticks": {"update": {"x2": {"signal": "abs(datum.value*10-round(datum.value*10))<0.0001 ? 8 : 4"}}}}}},
        "shape": {"field": "k", "type": "nominal", "scale": {"domain": ["THC_p","THC_l","CO2_p","CO2_l","O2_p","O2_l","H2O_p","H2O_l","CO_p"], "range": ["square","M-7,0H7","triangle-up","M-7,0H7","circle","M-7,0H7","diamond","M-7,0H7","triangle-down"]}, "legend": {"orient": "none", "legendX": 385, "legendY": 10, "title": null, "labelExpr": "replace(slice(datum.value,0,-2),'2','₂')"}},
        "fill": {"field": "k", "type": "nominal", "scale": {"domain": ["THC_p","THC_l","CO2_p","CO2_l","O2_p","O2_l","H2O_p","H2O_l","CO_p"], "range": ["white","transparent","#c8c8c8","transparent","white","transparent","white","transparent","#c8c8c8"]}, "legend": {"orient": "none", "legendX": 385, "legendY": 10, "title": null, "labelExpr": "replace(slice(datum.value,0,-2),'2','₂')"}},
        "size": {"field": "k", "type": "nominal", "scale": {"type": "ordinal", "domain": ["THC_p","THC_l","CO2_p","CO2_l","O2_p","O2_l","H2O_p","H2O_l","CO_p"], "range": [150,64,130,64,40,64,36,64,170]}, "legend": {"orient": "none", "legendX": 385, "legendY": 10, "title": null, "labelExpr": "replace(slice(datum.value,0,-2),'2','₂')"}},
        "strokeWidth": {"field": "k", "type": "nominal", "scale": {"type": "ordinal", "domain": ["THC_p","THC_l","CO2_p","CO2_l","O2_p","O2_l","H2O_p","H2O_l","CO_p"], "range": [2,1.7,1,1.7,1,1.7,2.2,1.7,1]}, "legend": {"orient": "none", "legendX": 385, "legendY": 10, "title": null, "labelExpr": "replace(slice(datum.value,0,-2),'2','₂')"}}
      }
    }
  ]
}
]
}
